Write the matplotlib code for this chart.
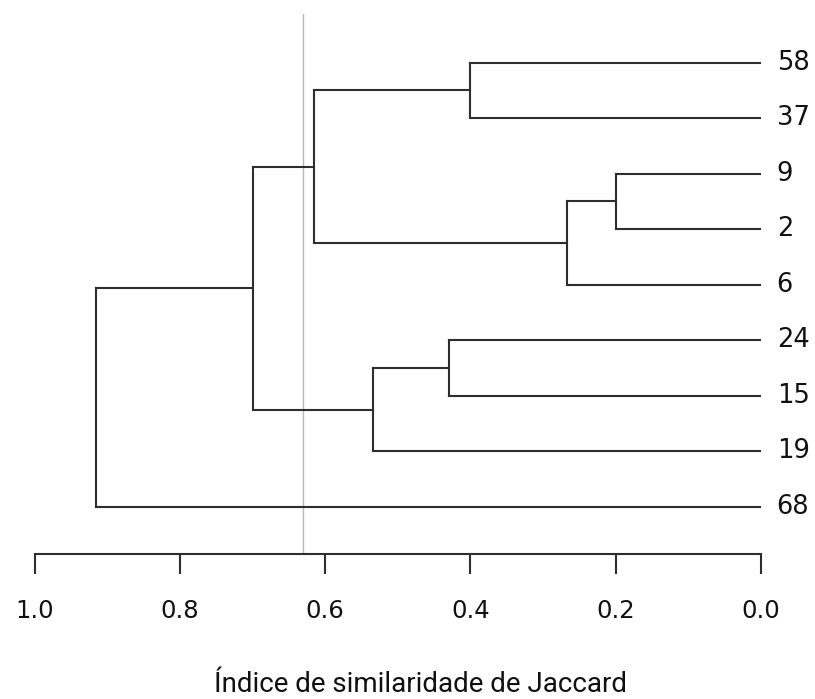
import matplotlib
matplotlib.use("Agg")
import matplotlib.pyplot as plt

# ---- data ----
leaf_labels = ["58", "37", "9", "2", "6", "24", "15", "19", "68"]
# R-style merge matrix: negative = leaf (1-based), positive = earlier merge (1-based)
merge_left = [-1, -3, 2, 1, -6, 5, 4, 7]
merge_right = [-2, -4, -5, 3, -7, -8, 6, -9]
merge_height = [0.40, 0.20, 0.267, 0.615, 0.429, 0.534, 0.700, 0.915]
cut_height = 0.631
tick_values = [1.0, 0.8, 0.6, 0.4, 0.2, 0.0]
tick_labels = ["1.0", "0.8", "0.6", "0.4", "0.2", "0.0"]
x_label = "Índice de similaridade de Jaccard"

W, H = 815, 699
fig = plt.figure(figsize=(W / 100, H / 100), dpi=100)

x_left_px, x_right_px = 34.7, 760.7
y_top_px, y_bot_px = 14.0, 554.0
leaf0_px, leaf_step_px = 62.7, 55.5

ax = fig.add_axes([x_left_px / W, 1 - y_bot_px / H,
                   (x_right_px - x_left_px) / W, (y_bot_px - y_top_px) / H])
ax.set_xlim(1.0, 0.0)
y_top = 1 + (y_top_px - leaf0_px) / leaf_step_px
y_bot = 1 + (y_bot_px - leaf0_px) / leaf_step_px
ax.set_ylim(y_bot, y_top)

line_color = "#2e2e2e"
lw = 1.5

def node_pos(idx, positions):
    if idx < 0:
        return float(-idx), 0.0
    return positions[idx - 1]

positions = []
for l, r, h in zip(merge_left, merge_right, merge_height):
    yl, hl = node_pos(l, positions)
    yr, hr = node_pos(r, positions)
    ax.plot([h, h], [yl, yr], color=line_color, lw=lw, solid_capstyle="projecting")
    ax.plot([h, hl], [yl, yl], color=line_color, lw=lw, solid_capstyle="projecting")
    ax.plot([h, hr], [yr, yr], color=line_color, lw=lw, solid_capstyle="projecting")
    positions.append(((yl + yr) / 2, h))

# leaf labels
for i, lab in enumerate(leaf_labels):
    ax.text(-0.022, i + 1, lab, ha="left", va="center", fontsize=18.5,
            family=["DejaVu Sans"], color="#111111", clip_on=False)

# cut line
ax.axvline(cut_height, color="#b8b8b8", lw=1.0, zorder=0)

for s in ["top", "left", "right"]:
    ax.spines[s].set_visible(False)
ax.spines["bottom"].set_linewidth(1.5)
ax.spines["bottom"].set_color(line_color)
ax.set_yticks([])
ax.set_xticks(tick_values)
ax.set_xticklabels(tick_labels, family=["DejaVu Sans"], fontsize=17.5)
ax.tick_params(axis="x", direction="out", length=14.4, width=1.5, color=line_color,
               pad=18, labelcolor="#111111")

fig.text(420 / W, 1 - 685 / H, x_label, ha="center", va="center", fontsize=20,
         family=["Roboto", "DejaVu Sans"], color="#111111")

fig.savefig("out.png", dpi=100)
